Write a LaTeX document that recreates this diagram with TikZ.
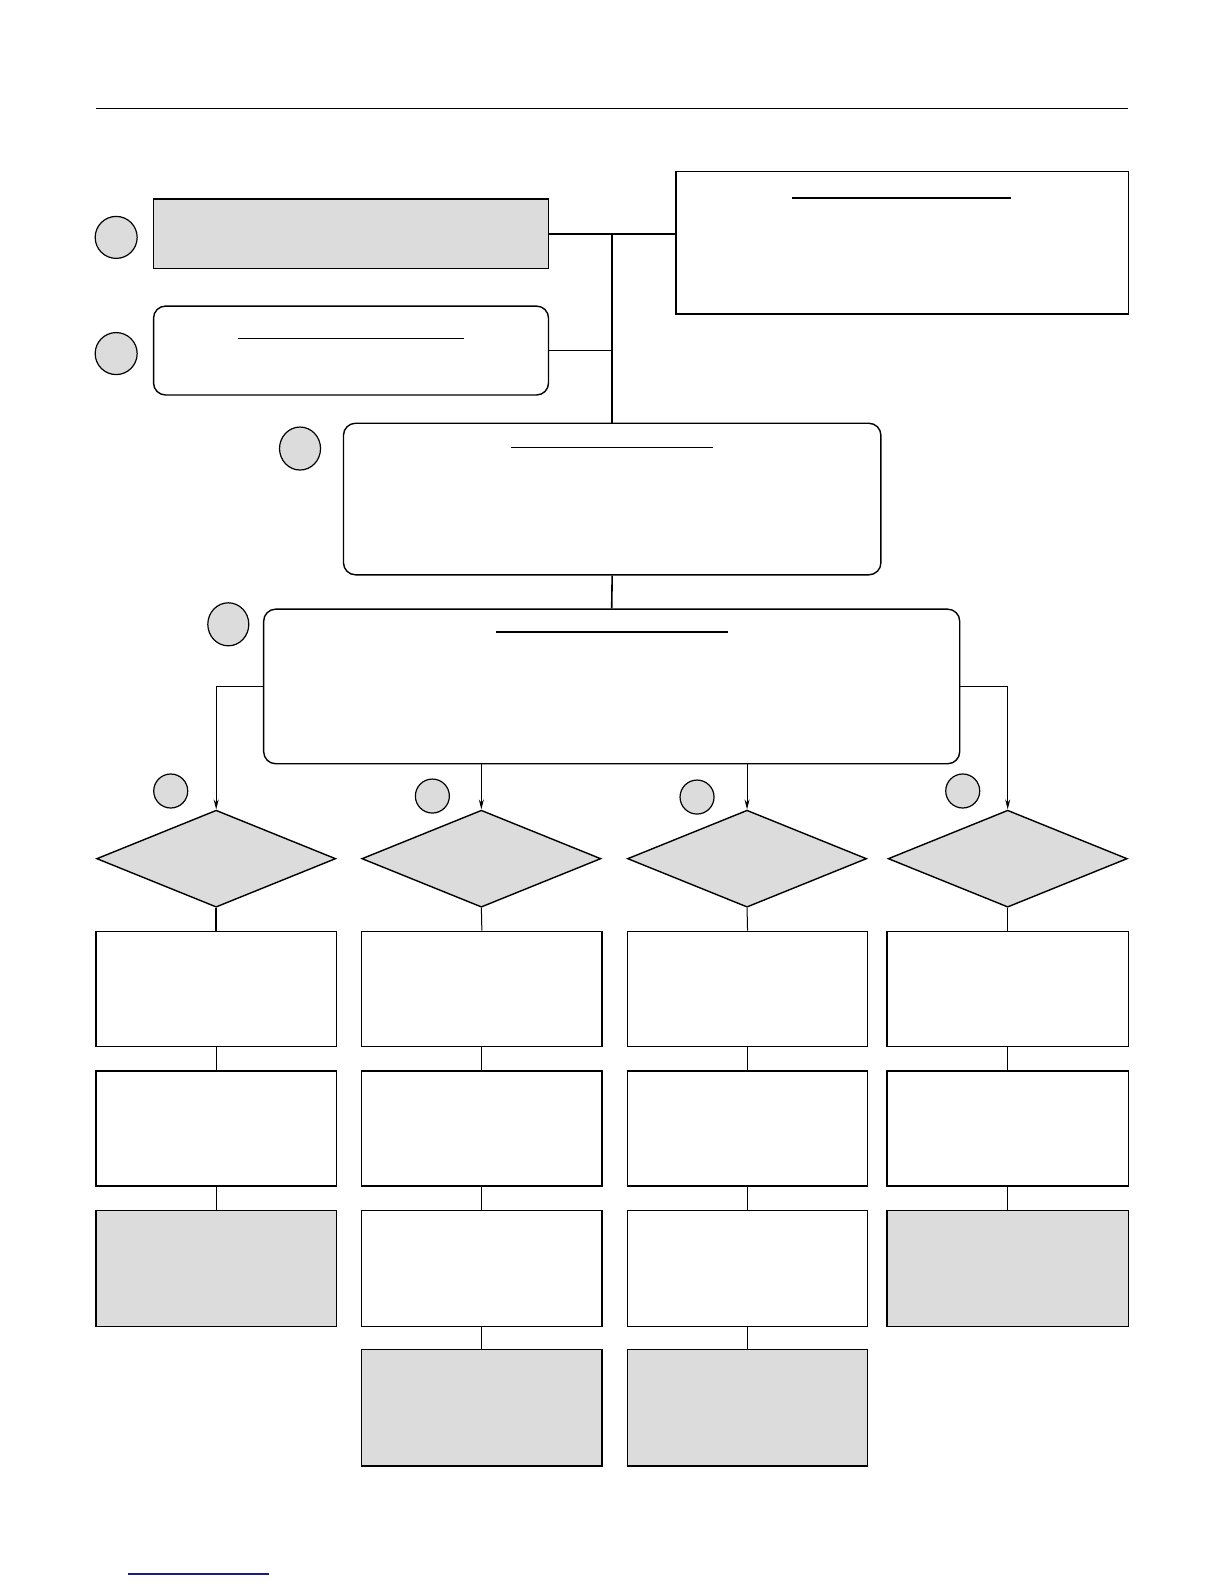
\documentclass[tikz,border=0pt]{standalone}
\usetikzlibrary{fit,shapes.geometric,arrows.meta}
\definecolor{boxgray}{HTML}{DCDCDC}
\definecolor{linkblue}{HTML}{1A1A8C}
\tikzset{
  base/.style={draw=black, line width=1.4pt, inner sep=0pt},
  graybox/.style={base, fill=boxgray},
  whitebox/.style={base, fill=white},
  roundbox/.style={base, fill=white, rounded corners=12pt},
  badge/.style={draw=black, line width=1.2pt, fill=boxgray, circle, inner sep=0pt, minimum size=#1},
  badge/.default=42pt,
  decision/.style={base, fill=boxgray, diamond, minimum width=239pt, minimum height=97pt},
  conn/.style={line width=1.6pt},
  thin/.style={line width=1pt},
  arr/.style={line width=1pt, -{Stealth[length=10pt,width=5pt]}},
  rule/.style={line width=1.8pt}
}
\begin{document}
\begin{tikzpicture}[x=1.0099pt, y=-1.0099pt]
\useasboundingbox (0,0) rectangle (1212,1568);
% top rule
\draw[line width=0.8pt] (95,107) -- (1117,107);
% top boxes
\node[graybox, fit={(152,197) (543,266)}] (b1) {};
\node[badge] (c1) at (115,235) {};
\node[roundbox, fit={(152,303) (543,391)}] (b2) {};
\draw[rule] (236,335) -- (459,335);
\node[badge] (c2) at (115,350) {};
\node[whitebox, fit={(669,170) (1117,311)}] (rb) {};
\draw[rule] (784,196) -- (1001,196);
\node[roundbox, fit={(340,419) (872,569)}] (b3) {};
\draw[thin] (506,443) -- (706,443);
\node[badge, ellipse, minimum width=41pt, minimum height=43pt] (c3) at (297,444) {};
\node[roundbox, fit={(261,603) (950,756)}] (b4) {};
\draw[rule] (491,626) -- (721,626);
\node[badge, ellipse, minimum width=41pt, minimum height=43pt] (c4) at (226,618) {};
% junction connectors
\coordinate (j) at (606,232);
\draw[conn] (b1.east) -- (rb.west |- b1.east);
\draw[conn] (j) -- (b3.north);
\draw[conn] (b2.east) -- (j |- b2.east);
\draw[conn] (b3.south) -- (b4.north);
% decisions
\node[decision] (d1) at (214,850) {};
\node[decision] (d2) at (476.5,850) {};
\node[decision] (d3) at (739.5,850) {};
\node[decision] (d4) at (997.5,850) {};
\node[badge=34pt] (s1) at (169,783) {};
\node[badge=34pt] (s2) at (428,788) {};
\node[badge=34pt] (s3) at (690,789) {};
\node[badge=34pt] (s4) at (953,783) {};
% arrows
\draw[arr] (b4.west) -| (d1.north);
\draw[arr] (b4.east) -| (d4.north);
\draw[arr] (b4.south -| d2.north) -- (d2.north);
\draw[arr] (b4.south -| d3.north) -- (d3.north);
% column 1
\node[whitebox, fit={(95,922) (333,1036)}] (a1) {};
\node[whitebox, fit={(95,1060) (333,1174)}] (a2) {};
\node[graybox, fit={(95,1198) (333,1313)}] (a3) {};
\draw[conn] (d1.south) -- (a1.north);
\draw[thin] (a1.south) -- (a2.north);
\draw[thin] (a2.south) -- (a3.north);
% column 2
\node[whitebox, fit={(358,922) (596,1036)}] (e1) {};
\node[whitebox, fit={(358,1060) (596,1174)}] (e2) {};
\node[whitebox, fit={(358,1198) (596,1313)}] (e3) {};
\node[graybox, fit={(358,1336) (596,1451)}] (e4) {};
\draw[thin] (d2.south) -- (e1.north);
\draw[thin] (e1.south) -- (e2.north);
\draw[thin] (e2.south) -- (e3.north);
\draw[thin] (e3.south) -- (e4.north);
% column 3
\node[whitebox, fit={(621,922) (859,1036)}] (f1) {};
\node[whitebox, fit={(621,1060) (859,1174)}] (f2) {};
\node[whitebox, fit={(621,1198) (859,1313)}] (f3) {};
\node[graybox, fit={(621,1336) (859,1451)}] (f4) {};
\draw[thin] (d3.south) -- (f1.north);
\draw[thin] (f1.south) -- (f2.north);
\draw[thin] (f2.south) -- (f3.north);
\draw[thin] (f3.south) -- (f4.north);
% column 4
\node[whitebox, fit={(878,922) (1117,1036)}] (g1) {};
\node[whitebox, fit={(878,1060) (1117,1174)}] (g2) {};
\node[graybox, fit={(878,1198) (1117,1313)}] (g3) {};
\draw[thin] (d4.south) -- (g1.north);
\draw[thin] (g1.south) -- (g2.north);
\draw[thin] (g2.south) -- (g3.north);
% bottom link line
\draw[linkblue, line width=1.5pt] (127,1558) -- (266,1558);
\end{tikzpicture}
\end{document}
